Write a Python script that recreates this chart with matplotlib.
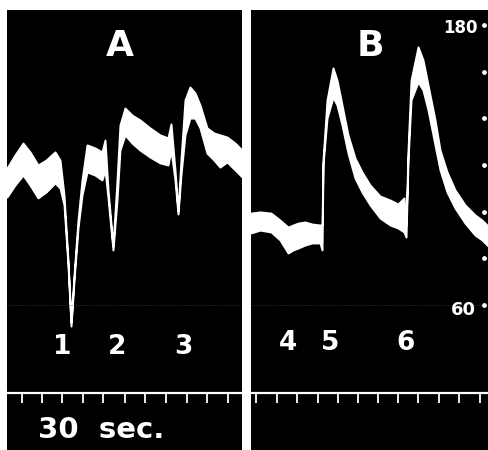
import matplotlib
matplotlib.use("Agg")
import matplotlib.pyplot as plt

# time in seconds (one tick = 30 s), pressure in mm Hg
T_A = [0, 11.6, 23.3, 33.5, 45.1, 56.8, 69.9, 77.2, 83.0, 88.8, 93.2, 97.6, 103.4,
       109.2, 116.5, 128.1, 138.3, 142.7, 147.1, 154.3, 160.2, 164.5, 171.8, 182.0,
       193.6, 208.2, 222.8, 234.4, 238.8, 244.6, 249.0, 253.3, 259.2, 266.4, 273.7,
       281.0, 291.2, 301.4, 310.1, 320.3, 332.0, 342.2]
UP_A = [118.7, 124.3, 129.4, 125.6, 120.0, 122.1, 125.6, 122.1, 107.1, 79.3, 52.7, 72.9,
        96.4, 113.6, 128.6, 127.3, 125.6, 130.7, 109.3, 85.3, 113.6, 137.1, 144.4, 141.4,
        139.3, 135.9, 132.9, 131.6, 137.6, 117.9, 100.3, 122.1, 147.9, 153.4, 150.9,
        145.7, 135.9, 133.7, 132.9, 132.0, 129.4, 126.4]
LO_A = [106.3, 111.4, 115.7, 111.4, 105.9, 108.4, 112.3, 110.1, 102.9, 77.1, 51.0, 70.7,
        93.0, 107.1, 117.0, 115.7, 113.6, 117.9, 105.9, 83.6, 105.0, 126.4, 132.9, 129.4,
        126.4, 123.4, 120.9, 120.0, 126.4, 113.6, 99.0, 115.7, 132.9, 140.1, 140.1,
        135.9, 125.1, 122.1, 119.1, 121.3, 117.9, 114.9]

T_B = [0, 13.1, 29.1, 42.2, 53.9, 61.2, 68.4, 78.6, 88.8, 100.5, 103.4, 104.8, 110.7,
       119.4, 125.2, 132.5, 141.2, 151.4, 161.6, 173.3, 187.8, 202.4, 214.0, 222.8,
       225.7, 228.6, 233.0, 243.2, 250.4, 257.7, 267.9, 275.2, 285.4, 297.0, 311.6,
       326.1, 336.3, 346.5]
UP_B = [99.4, 99.9, 99.4, 96.4, 93.4, 94.3, 95.1, 95.6, 94.7, 94.3, 94.3, 122.1, 147.9,
        161.6, 156.4, 145.7, 132.9, 123.0, 117.0, 111.4, 106.7, 105.0, 103.3, 105.9,
        94.3, 126.4, 156.4, 170.6, 165.0, 154.3, 139.3, 126.4, 117.0, 109.3, 102.9,
        98.6, 96.4, 93.4]
LO_B = [90.9, 92.1, 91.3, 87.9, 82.3, 83.6, 84.4, 85.7, 86.6, 86.6, 83.6, 120.0, 140.1,
        149.1, 145.7, 137.1, 125.1, 114.4, 108.4, 102.9, 97.3, 94.3, 93.0, 91.3,
        89.1, 122.1, 147.9, 155.6, 152.1, 143.6, 128.6, 117.9, 108.4, 101.6, 95.1,
        90.0, 87.9, 84.9]

TICKS_A = [21.8, 50.9, 80.1, 110.6, 139.8, 171.8, 200.9, 231.5, 262.1, 291.2, 321.8]
TICKS_B = [7.3, 37.9, 67.0, 97.6, 126.7, 155.8, 184.9, 214.0, 243.2, 273.7, 302.9, 333.4]

MARKS_A = [("1", 80.1), ("2", 160.2), ("3", 256.3)]
MARKS_B = [("4", 53.9), ("5", 115.0), ("6", 225.7)]

SCALE = [180, 160, 140, 120, 100, 80, 60]

Y_MIN, Y_MAX = -2.1, 186.4
TIME_LINE = 22.3
TICK_END = 18.0

fig = plt.figure(figsize=(4.89, 4.5), dpi=100, facecolor="white")
axA = fig.add_axes([7 / 489, 0, 235 / 489, 440 / 450])
axB = fig.add_axes([251 / 489, 0, 238 / 489, 440 / 450])


def setup(ax, width):
    ax.set_facecolor("black")
    ax.set_xlim(0, width)
    ax.set_ylim(Y_MIN, Y_MAX)
    ax.set_xticks([])
    ax.set_yticks([])
    for s in ax.spines.values():
        s.set_visible(False)
    ax.axhline(60, color="#3a3a3a", lw=0.6, ls=":")
    ax.axhline(TIME_LINE, color="white", lw=1.6)


setup(axA, 342.2)
setup(axB, 346.5)

axA.fill_between(T_A, LO_A, UP_A, color="white", lw=1.4)
axB.fill_between(T_B, LO_B, UP_B, color="white", lw=1.4)

axA.vlines(TICKS_A, TICK_END, TIME_LINE, color="white", lw=1.3)
axB.vlines(TICKS_B, TICK_END, TIME_LINE, color="white", lw=1.3)

txt = dict(color="white", ha="center", va="center", fontweight="bold")
axA.text(164.5, 171.0, "A", fontsize=26, **txt)
axB.text(173.3, 171.0, "B", fontsize=26, **txt)

for lab, t in MARKS_A:
    axA.text(t, 42.0, lab, fontsize=19, **txt)
for lab, t in MARKS_B:
    axB.text(t, 43.7, lab, fontsize=19, **txt)

axA.text(137.0, 6.4, "30  sec.", fontsize=21, **txt)

# pressure scale dots on the right of B
axB.scatter([339.5] * len(SCALE), SCALE, s=6, color="white", zorder=3)
axB.text(305.0, 178.5, "180", fontsize=12, **txt)
axB.text(309.0, 58.0, "60", fontsize=13, **txt)

fig.savefig("out.png", dpi=100, facecolor="white")
